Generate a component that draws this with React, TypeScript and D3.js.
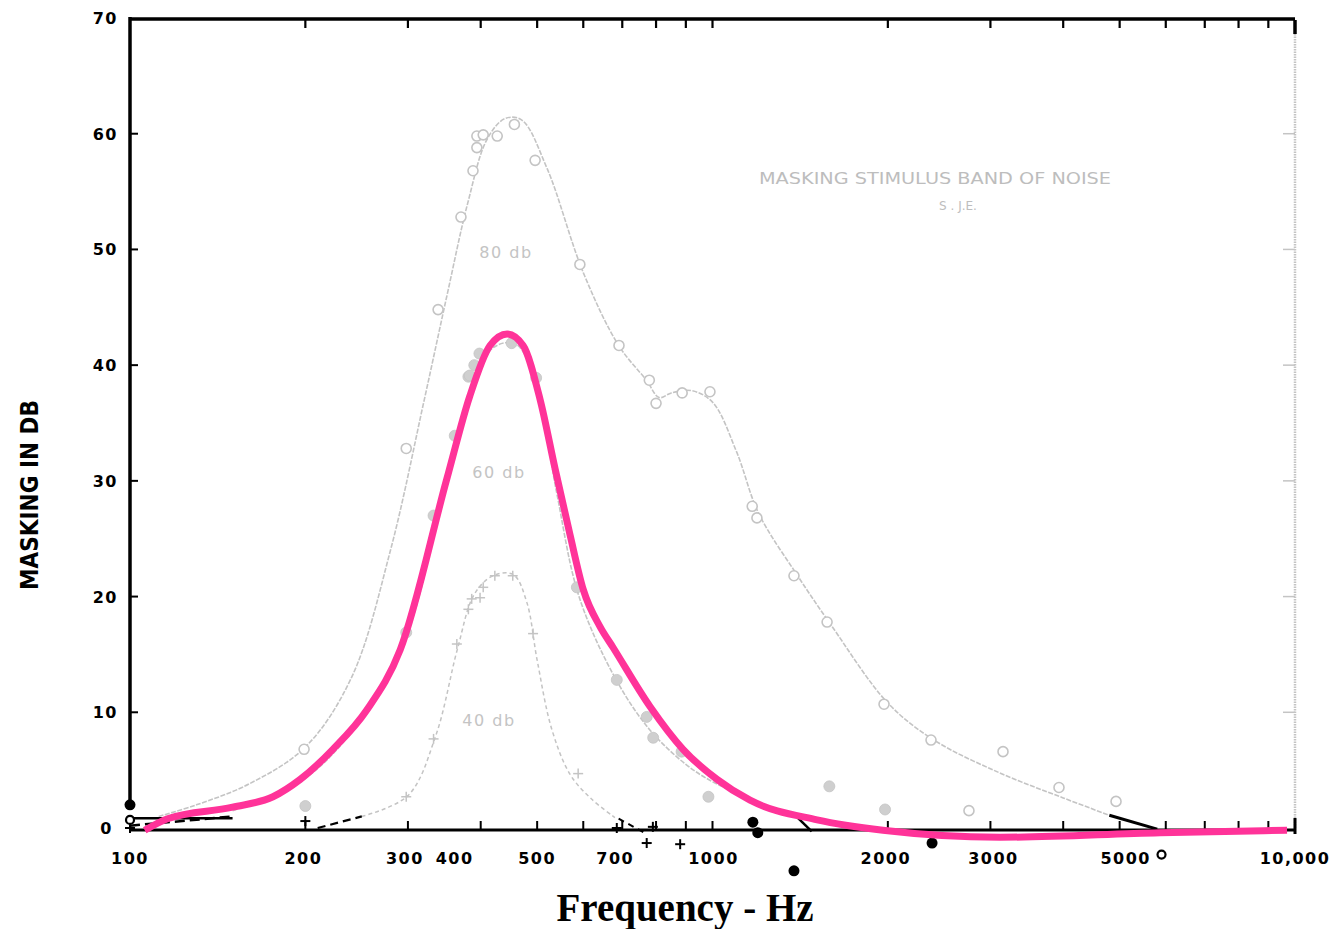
import React from "react";
import * as d3 from "d3";

// ---- data ----
const xTicksMinor = [200, 300, 400, 500, 600, 700, 800, 900, 1000, 2000, 3000, 4000, 5000, 6000, 7000, 8000, 9000];
const xLabelValues = [100, 200, 300, 400, 500, 700, 1000, 2000, 3000, 5000, 10000];
const xLabelTexts = ["100", "200", "300", "400", "500", "700", "1000", "2000", "3000", "5000", "10,000"];
const xLabelShift = [0, -2, -3, -26, 0, -7, 1, -2, 3, 6, 0];
const yTicks = [0, 10, 20, 30, 40, 50, 60, 70];

// 80 dB masker: open circles
const pts80F = [199, 298, 338, 370, 388, 394, 394, 404, 427, 457, 496, 592, 691, 779, 800, 887, 990, 1170, 1192, 1380, 1573, 1970, 2372, 2756, 3153, 3934, 4929];
const pts80V = [6.8, 32.8, 44.8, 52.8, 56.8, 58.8, 59.8, 59.9, 59.8, 60.8, 57.7, 48.7, 41.7, 38.7, 36.7, 37.6, 37.7, 27.8, 26.8, 21.8, 17.8, 10.7, 7.6, 1.5, 6.6, 3.5, 2.3];
// 80 dB curve
const curve80F = [112, 130, 160, 200, 240, 280, 320, 350, 380, 410, 440, 470, 520, 600, 690, 770, 810, 850, 920, 1000, 1100, 1200, 1400, 1600, 2000, 2400, 3100, 4000, 4800];
const curve80V = [1.0, 2.0, 3.8, 7.0, 13.0, 24.0, 37.0, 46.0, 54.0, 59.5, 61.3, 61.2, 57.0, 48.0, 41.7, 38.7, 37.2, 37.6, 37.8, 36.8, 32.5, 27.2, 21.8, 17.5, 10.8, 7.6, 4.8, 2.6, 1.1];

// 60 dB masker: filled circles
const pts60F = [200, 298, 332, 361, 381, 383, 390, 398, 452, 498, 585, 685, 771, 791, 885, 984, 1587, 1978];
const pts60V = [1.9, 16.9, 27.0, 33.9, 39.0, 39.1, 40.0, 41.0, 41.9, 38.9, 20.8, 12.8, 9.6, 7.8, 6.6, 2.7, 3.6, 1.6];
const curve60F = [150, 200, 250, 300, 340, 380, 420, 460, 500, 540, 590, 680, 780, 900, 1000, 1200];
const curve60V = [1.5, 4.3, 9.5, 17.0, 27.5, 37.0, 41.5, 41.8, 38.0, 29.0, 20.0, 13.0, 8.5, 5.5, 4.0, 2.2];

// 40 dB masker: crosses
const pts40F = [298, 332, 364, 381, 386, 399, 404, 423, 454, 492, 588];
const pts40V = [2.7, 7.7, 15.9, 18.9, 19.8, 19.9, 20.8, 21.8, 21.8, 16.8, 4.7];
const curve40F = [250, 300, 335, 365, 390, 420, 455, 480, 500, 530, 570, 620, 680];
const curve40V = [1.0, 2.8, 8.0, 15.5, 20.2, 21.8, 21.9, 19.5, 14.5, 8.5, 4.6, 2.5, 0.9];

// black marks near the baseline
const blackDotF = [100, 1173, 1196, 1380, 2382];
const blackDotV = [2.0, 0.5, -0.4, -3.7, -1.3];
const blackCrossF = [100, 200, 685, 771, 790, 880];
const blackCrossV = [0, 0.6, 0, -1.3, 0.1, -1.4];
const blackOpenF = [100, 5900];
const blackOpenV = [0.7, -2.3];
const blackDash1F = [100, 150];
const blackDash1V = [0.2, 1.0];
const blackDash2F = [210, 250];
const blackDash2V = [0.0, 1.0];
const blackDash3F = [690, 770];
const blackDash3V = [0.8, -0.5];
const blackSeg1F = [100, 150];
const blackSeg1V = [0.85, 0.85];
const blackSeg2F = [1400, 1480];
const blackSeg2V = [0.9, -0.3];
const blackSeg3F = [4800, 5800];
const blackSeg3V = [1.1, -0.1];

// highlighted (pink) curve
const pinkF = [106, 116, 150, 176, 196, 223, 255, 291, 350, 383, 415, 444, 473, 506, 537, 569, 600, 641, 675, 781, 890, 1018, 1160, 1512, 1962, 3116, 5865, 9690];
const pinkV = [-0.2, 0.8, 1.8, 2.7, 4.2, 6.8, 10.2, 15.4, 30.2, 37.3, 41.7, 42.7, 41.7, 37.0, 31.0, 25.4, 20.6, 17.4, 15.6, 10.5, 6.8, 4.2, 2.4, 0.7, -0.2, -0.8, -0.4, -0.2];

const zip = (f: number[], v: number[]) => f.map((d, i) => [d, v[i]] as [number, number]);

export default function App() {
  const W = 1332, H = 929;
  const x = d3.scaleLog().domain([100, 10000]).range([130, 1295]);
  const y = d3.scaleLinear().domain([0, 70]).range([828, 18]);
  const lineCR = d3.line<[number, number]>().x(d => x(d[0])).y(d => y(d[1])).curve(d3.curveCatmullRom.alpha(0.5));
  const lineMono = d3.line<[number, number]>().x(d => x(d[0])).y(d => y(d[1])).curve(d3.curveMonotoneX);
  const lineStraight = d3.line<[number, number]>().x(d => x(d[0])).y(d => y(d[1]));
  const gray = "#c4c4c4";
  const labelFont = "'DejaVu Sans', Verdana, sans-serif";

  const cross = (cx: number, cy: number, s: number, color: string, w: number, key: string) => (
    <g key={key} stroke={color} strokeWidth={w}>
      <line x1={cx - s} x2={cx + s} y1={cy} y2={cy} />
      <line x1={cx} x2={cx} y1={cy - s} y2={cy + s} />
    </g>
  );

  return (
    <svg width={W} height={H} style={{ position: "absolute", left: 0, top: 0, background: "#fff" }}>
      <rect x={0} y={0} width={W} height={H} fill="#fff" />

      {/* frame */}
      <line x1={130} x2={1295} y1={19} y2={19} stroke="#000" strokeWidth={3.5} />
      <line x1={130} x2={130} y1={17} y2={806} stroke="#000" strokeWidth={3.5} />
      <line x1={130} x2={1295} y1={830} y2={830} stroke="#000" strokeWidth={3} />
      <line x1={1295} x2={1295} y1={20} y2={34} stroke="#000" strokeWidth={3.5} />
      <line x1={1295} x2={1295} y1={34} y2={828} stroke={gray} strokeWidth={2.5} strokeDasharray="1.5,1" />
      <line x1={1295} x2={1295} y1={818} y2={834} stroke="#000" strokeWidth={3} />

      {/* x ticks top and bottom */}
      {xTicksMinor.map(t => (
        <g key={"xt" + t}>
          <line x1={x(t)} x2={x(t)} y1={19} y2={28} stroke="#000" strokeWidth={2.2} />
          <line x1={x(t)} x2={x(t)} y1={830} y2={821} stroke="#000" strokeWidth={2} />
        </g>
      ))}
      {/* y ticks left and right */}
      {yTicks.filter(t => t > 0 && t < 70).map(t => (
        <g key={"yt" + t}>
          <line x1={130} x2={138} y1={y(t)} y2={y(t)} stroke="#000" strokeWidth={2} />
          <line x1={1283} x2={1295} y1={y(t)} y2={y(t)} stroke={gray} strokeWidth={1.5} />
        </g>
      ))}

      {/* y tick labels */}
      {yTicks.map(t => (
        <text key={"yl" + t} x={t === 0 ? 113 : 118} y={y(t) + 6} textAnchor="end" fontFamily={labelFont}
          fontWeight="bold" fontSize={16} letterSpacing={1.5} fill="#000">{t}</text>
      ))}
      {/* x tick labels */}
      {xLabelValues.map((v, i) => (
        <text key={"xl" + v} x={x(v) + xLabelShift[i]} y={864} textAnchor="middle" fontFamily={labelFont}
          fontWeight="bold" fontSize={16} letterSpacing={1.5} fill="#000">{xLabelTexts[i]}</text>
      ))}

      {/* axis titles */}
      <text x={685} y={921} textAnchor="middle" fontFamily="'Liberation Serif', 'Times New Roman', serif"
        fontWeight="bold" fontSize={39} fill="#000">Frequency - Hz</text>
      <text transform="translate(38,495) rotate(-90)" textAnchor="middle"
        fontFamily="'DejaVu Sans', sans-serif" textLength={190} lengthAdjust="spacingAndGlyphs"
        fontWeight="bold" fontSize={25} fill="#000">MASKING IN DB</text>

      {/* annotations */}
      <text x={935} y={184} textAnchor="middle" fontFamily={labelFont} fontSize={16} textLength={352}
        lengthAdjust="spacingAndGlyphs" fill="#bdbdbd">MASKING STIMULUS  BAND OF NOISE</text>
      <text x={958} y={210} textAnchor="middle" fontFamily={labelFont} fontSize={12} fill="#bdbdbd">S . J.E.</text>
      <text x={506} y={258} textAnchor="middle" fontFamily={labelFont} fontSize={16} letterSpacing={1.5} fill="#c4c4c4">80 db</text>
      <text x={499} y={478} textAnchor="middle" fontFamily={labelFont} fontSize={16} letterSpacing={1.5} fill="#c4c4c4">60 db</text>
      <text x={489} y={726} textAnchor="middle" fontFamily={labelFont} fontSize={16} letterSpacing={1.5} fill="#c4c4c4">40 db</text>

      {/* gray curves */}
      <path d={lineCR(zip(curve80F, curve80V)) || ""} fill="none" stroke={gray} strokeWidth={1.6} strokeDasharray="5,1.5" />
      <path d={lineCR(zip(curve60F, curve60V)) || ""} fill="none" stroke={gray} strokeWidth={1.6} strokeDasharray="5,1.5" />
      <path d={lineCR(zip(curve40F, curve40V)) || ""} fill="none" stroke={gray} strokeWidth={1.5} strokeDasharray="4,3" />

      {/* gray markers */}
      {zip(pts80F, pts80V).map((d, i) => (
        <circle key={"c80" + i} cx={x(d[0])} cy={y(d[1])} r={5} fill="#fff" stroke={gray} strokeWidth={1.6} />
      ))}
      {zip(pts60F, pts60V).map((d, i) => (
        <circle key={"c60" + i} cx={x(d[0])} cy={y(d[1])} r={5.5} fill="#cfcfcf" stroke="#c4c4c4" strokeWidth={0.8} />
      ))}
      {zip(pts40F, pts40V).map((d, i) => cross(x(d[0]), y(d[1]), 5, gray, 1.5, "c40" + i))}

      {/* black marks */}
      <path d={lineStraight(zip(blackSeg1F, blackSeg1V)) || ""} fill="none" stroke="#000" strokeWidth={2.5} />
      <path d={lineStraight(zip(blackDash1F, blackDash1V)) || ""} fill="none" stroke="#000" strokeWidth={2.5} strokeDasharray="10,5" />
      <path d={lineStraight(zip(blackDash2F, blackDash2V)) || ""} fill="none" stroke="#000" strokeWidth={2.2} strokeDasharray="8,5" />
      <path d={lineStraight(zip(blackDash3F, blackDash3V)) || ""} fill="none" stroke="#000" strokeWidth={2} strokeDasharray="6,5" />
      <path d={lineStraight(zip(blackSeg2F, blackSeg2V)) || ""} fill="none" stroke="#000" strokeWidth={2.5} />
      <path d={lineStraight(zip(blackSeg3F, blackSeg3V)) || ""} fill="none" stroke="#000" strokeWidth={3} />
      {zip(blackDotF, blackDotV).map((d, i) => (
        <circle key={"bd" + i} cx={x(d[0])} cy={y(d[1])} r={5.5} fill="#000" />
      ))}
      {zip(blackOpenF, blackOpenV).map((d, i) => (
        <circle key={"bo" + i} cx={x(d[0])} cy={y(d[1])} r={4} fill="#fff" stroke="#000" strokeWidth={2.2} />
      ))}
      {zip(blackCrossF, blackCrossV).map((d, i) => cross(x(d[0]), y(d[1]), 5, "#000", 2, "bc" + i))}

      {/* pink highlighted curve */}
      <path d={lineMono(zip(pinkF, pinkV)) || ""} fill="none" stroke="#ff3399" strokeWidth={7} strokeLinecap="butt" strokeLinejoin="round" />
    </svg>
  );
}
